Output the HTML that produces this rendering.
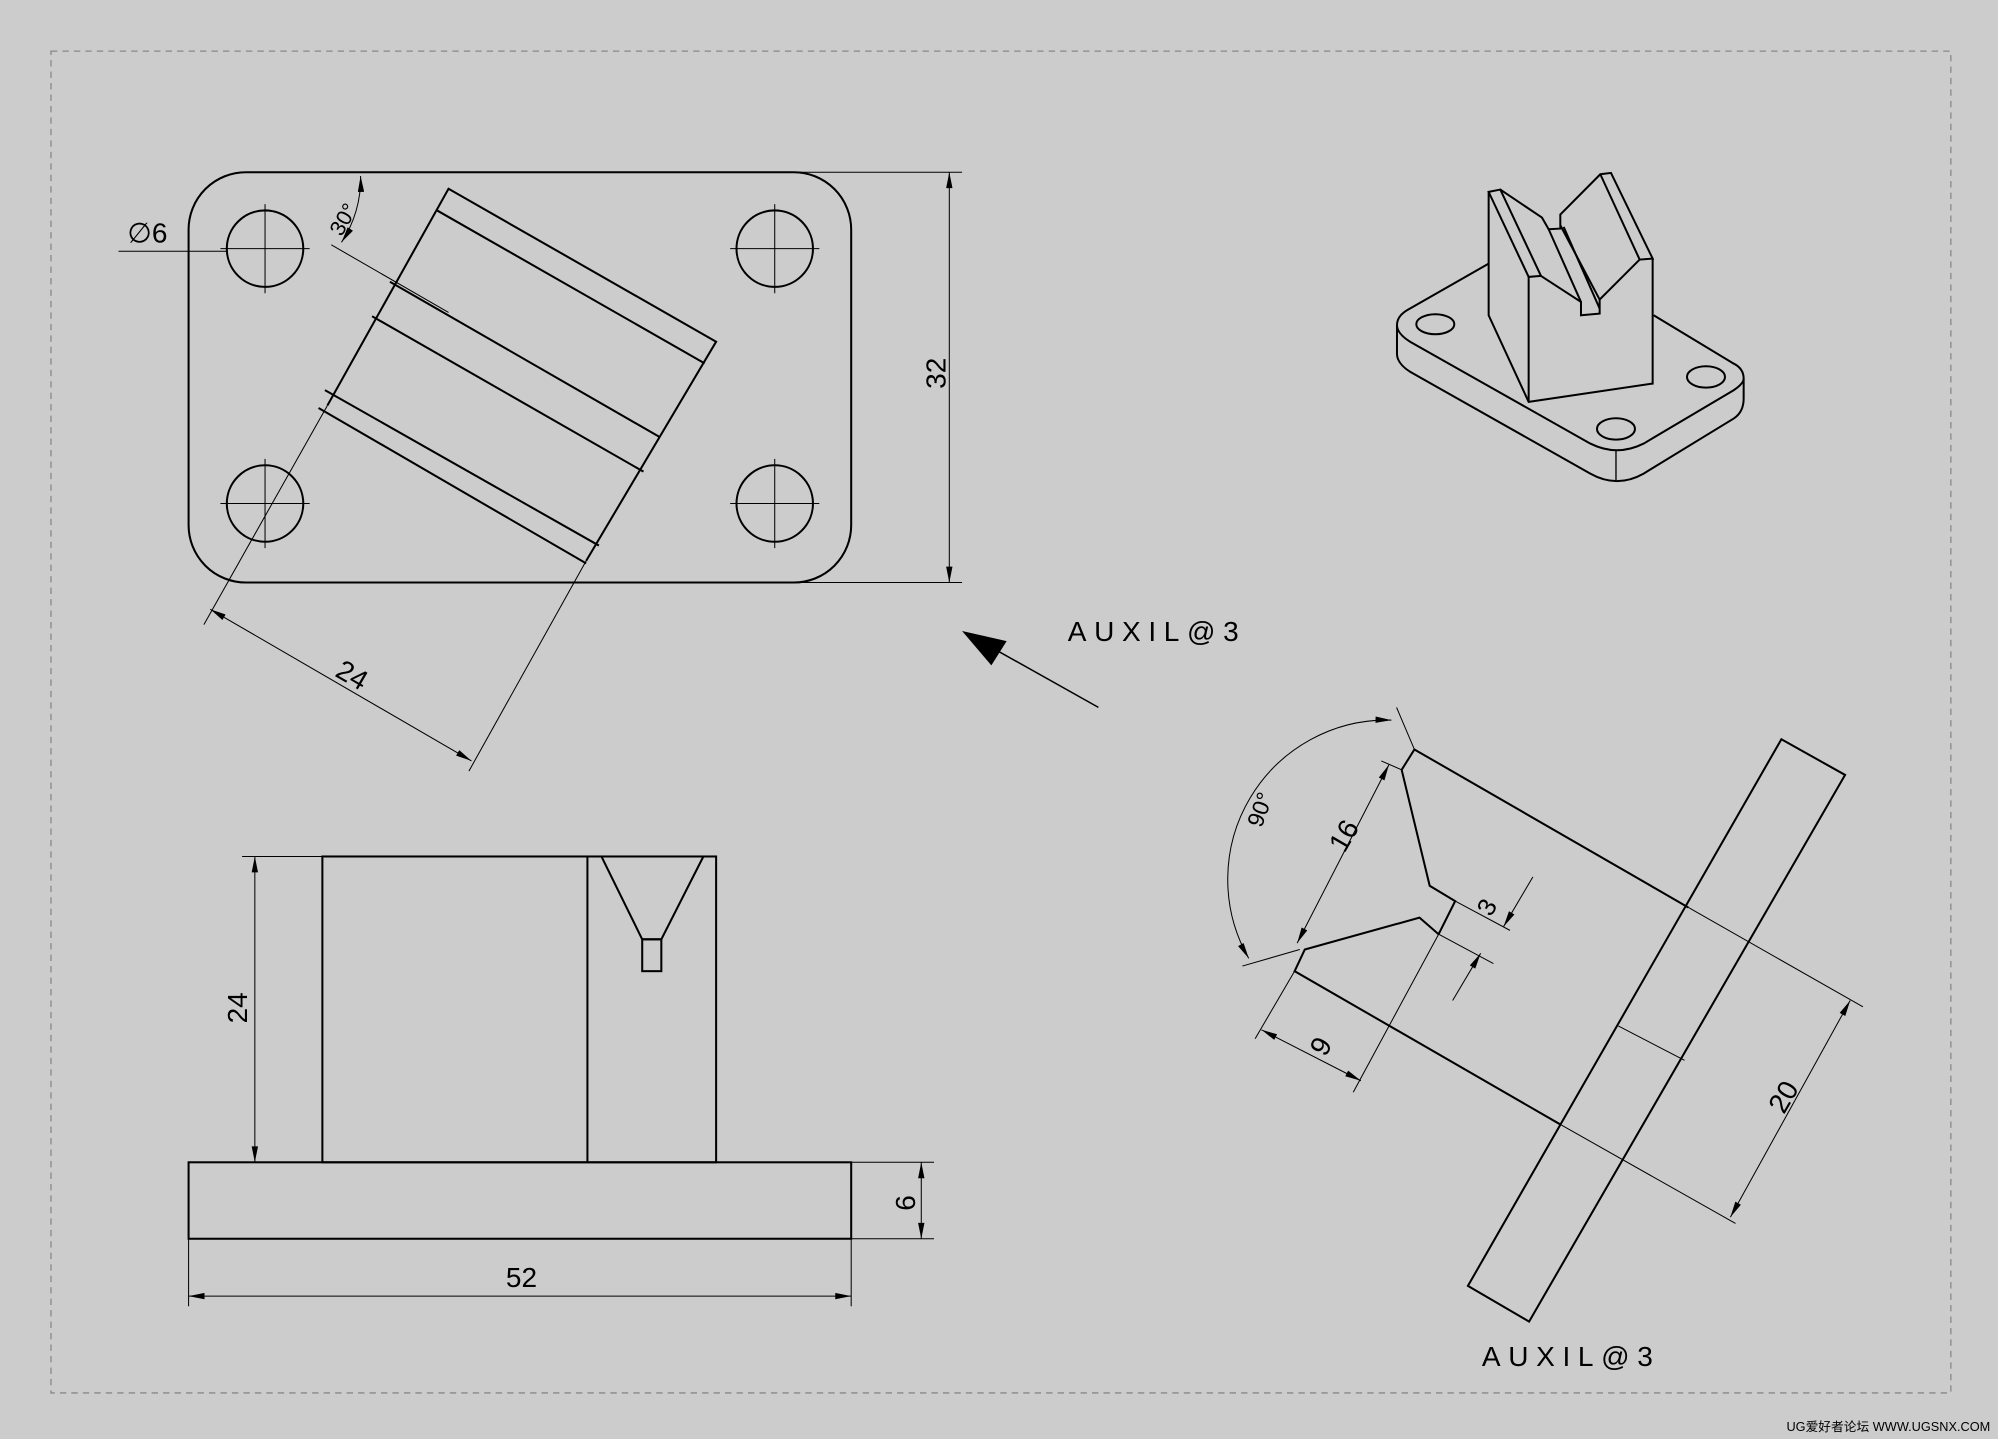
<!DOCTYPE html>
<html><head><meta charset="utf-8"><style>
html,body{margin:0;padding:0;background:#cccccc;}
svg{display:block}
text{font-family:"Liberation Sans Narrow","Liberation Sans",sans-serif;fill:#000;}
</style></head><body>
<svg width="1998" height="1439" viewBox="0 0 1568 1129" xmlns="http://www.w3.org/2000/svg">
<defs>
<marker id="a" viewBox="0 0 10 4" refX="10" refY="2" markerWidth="14" markerHeight="5" markerUnits="userSpaceOnUse" orient="auto-start-reverse"><path d="M0,0L10,2L0,4z" fill="#000"/></marker>
</defs>
<rect width="1568" height="1129" fill="#cccccc"/>
<rect x="40" y="40" width="1491" height="1053" fill="none" stroke="#888" stroke-width="1" stroke-dasharray="5,4"/>

<g fill="none" stroke="#000" stroke-width="1.6">
<rect x="148" y="135" width="520" height="322" rx="45"/>
<circle cx="208" cy="195" r="30"/><circle cx="608" cy="195" r="30"/>
<circle cx="208" cy="395" r="30"/><circle cx="608" cy="395" r="30"/>
<polyline points="257,318 352,148 562,268 460,440"/>
<line x1="343" y1="165" x2="553" y2="285"/>
<line x1="306" y1="221" x2="518" y2="343"/>
<line x1="292" y1="248" x2="505" y2="370"/>
<line x1="255" y1="306" x2="470" y2="428"/>
<line x1="250" y1="320" x2="460" y2="442"/>
<rect x="148" y="912" width="520" height="60"/>
<rect x="253" y="672" width="309" height="240"/>
<line x1="461" y1="672" x2="461" y2="912"/>
<polyline points="472,672 504,737 519,737 552,672"/>
<rect x="504" y="737" width="15" height="25"/>
<polygon points="1398,580 1448,608 1200,1037 1152,1009"/>
<polyline points="1325,712 1110,588 1100,604 1122,695 1142,707 1129,733"/>
<polyline points="1129,733 1114,720 1024,745 1016,762 1224,882"/>
</g>

<g fill="none" stroke="#000" stroke-width="0.8">
<path d="M208,160V230M173,195H243M608,160V230M573,195H643M208,360V430M173,395H243M608,360V430M573,395H643"/>
<line x1="93" y1="197" x2="178" y2="197"/>
<line x1="257" y1="318" x2="160" y2="490"/>
<line x1="460" y1="440" x2="368" y2="605"/>
<line x1="165" y1="478" x2="370" y2="597" marker-start="url(#a)" marker-end="url(#a)"/>
<line x1="260" y1="192" x2="352" y2="245"/>
<path d="M283,138 A90,90 0 0 1 268,190" marker-start="url(#a)" marker-end="url(#a)"/>
<line x1="610" y1="135" x2="755" y2="135"/><line x1="610" y1="457" x2="755" y2="457"/>
<line x1="745" y1="135" x2="745" y2="457" marker-start="url(#a)" marker-end="url(#a)"/>
<line x1="862" y1="555" x2="780" y2="509" stroke-width="1.2"/>
<line x1="190" y1="672" x2="253" y2="672"/>
<line x1="200" y1="672" x2="200" y2="912" marker-start="url(#a)" marker-end="url(#a)"/>
<line x1="668" y1="912" x2="733" y2="912"/><line x1="668" y1="972" x2="733" y2="972"/>
<line x1="723" y1="912" x2="723" y2="972" marker-start="url(#a)" marker-end="url(#a)"/>
<line x1="148" y1="972" x2="148" y2="1025"/><line x1="668" y1="972" x2="668" y2="1025"/>
<line x1="148" y1="1017" x2="668" y2="1017" marker-start="url(#a)" marker-end="url(#a)"/>
<line x1="1325" y1="712" x2="1462" y2="790"/>
<line x1="1224" y1="882" x2="1362" y2="960"/>
<line x1="1452" y1="785" x2="1358" y2="955" marker-start="url(#a)" marker-end="url(#a)"/>
<line x1="1270" y1="805" x2="1322" y2="832"/>
<line x1="1110" y1="588" x2="1096" y2="555"/>
<line x1="1100" y1="604" x2="1084" y2="597"/>
<line x1="1020" y1="745" x2="975" y2="758"/>
<line x1="1090" y1="600" x2="1018" y2="740" marker-start="url(#a)" marker-end="url(#a)"/>
<path d="M1092,565 A125,125 0 0 0 980,752" marker-start="url(#a)" marker-end="url(#a)"/>
<line x1="1016" y1="762" x2="985" y2="815"/>
<line x1="1129" y1="733" x2="1062" y2="857"/>
<line x1="990" y1="808" x2="1068" y2="848" marker-start="url(#a)" marker-end="url(#a)"/>
<line x1="1142" y1="707" x2="1185" y2="730"/>
<line x1="1129" y1="733" x2="1172" y2="756"/>
<line x1="1203" y1="688" x2="1180" y2="727" marker-end="url(#a)"/>
<line x1="1140" y1="785" x2="1162" y2="748" marker-end="url(#a)"/>
</g>
<polygon points="755,495 790,503 778,522" fill="#000"/>

<g fill="none" stroke="#000" stroke-width="6" transform="translate(1075.4,125.6) scale(0.2616)">
<path d="M355,310 L110,450 Q80,468 80,495 L80,580 Q80,610 120,635 L660,940 Q740,985 820,940 L1090,775 Q1120,755 1120,715 L1120,655 Q1120,625 1090,610 L850,465"/>
<path d="M80,495 Q80,520 120,545 L660,850 Q740,890 820,850 L1090,690 Q1120,670 1120,655"/>
<line x1="737" y1="870" x2="737" y2="965" stroke-width="4"/>
<ellipse cx="195" cy="492" rx="57" ry="30"/>
<ellipse cx="1007" cy="650" rx="57" ry="32"/>
<ellipse cx="737" cy="806" rx="57" ry="32"/>
<polyline points="355,95 355,465 475,725 847,670 847,295"/>
<line x1="475" y1="350" x2="475" y2="725"/>
<polygon points="355,95 390,88 512,347 475,350"/>
<polyline points="390,88 515,172 535,207 570,205 570,163 690,42 722,38 847,295 808,298 690,42"/>
<polyline points="512,347 632,425 632,465 688,460 688,418 808,298"/>
<line x1="535" y1="207" x2="632" y2="425"/>
<line x1="570" y1="195" x2="688" y2="418"/>
<line x1="580" y1="200" x2="688" y2="445"/>
</g>

<g font-size="22">
<text x="100" y="190">∅6</text>
<text transform="translate(268,186) rotate(-60)" font-size="17">30°</text>
<text transform="translate(262,530) rotate(30)">24</text>
<text transform="translate(742,305) rotate(-90)">32</text>
<text x="838" y="503" letter-spacing="6">AUXIL@3</text>
<text transform="translate(194,803) rotate(-90)">24</text>
<text transform="translate(718,950) rotate(-90)">6</text>
<text x="397" y="1010">52</text>
<text transform="translate(1400,875) rotate(-60)">20</text>
<text transform="translate(1055,670) rotate(-60)">16</text>
<text transform="translate(990,650) rotate(-70)" font-size="18">90°</text>
<text transform="translate(1040,830) rotate(-60)">9</text>
<text transform="translate(1170,720) rotate(-60)" font-size="20">3</text>
<text x="1163" y="1072" letter-spacing="6">AUXIL@3</text>
<text x="1402" y="1123" font-size="10" fill="#555">UG爱好者论坛 WWW.UGSNX.COM</text>
</g>
</svg>
</body></html>
